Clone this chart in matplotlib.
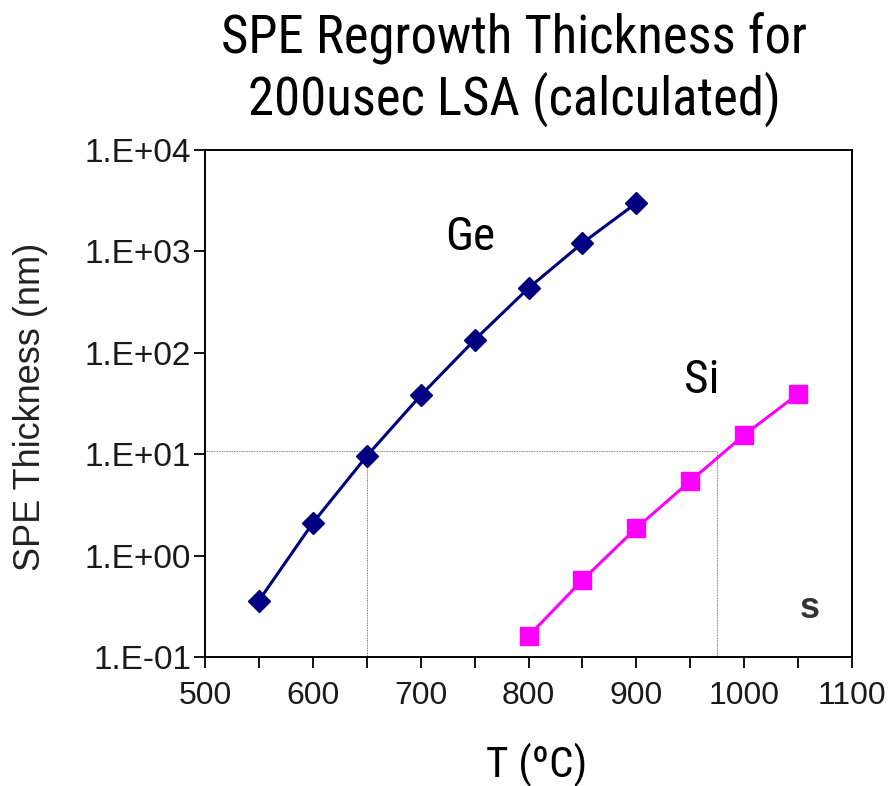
import numpy as np
import matplotlib
matplotlib.use("Agg")
import matplotlib.pyplot as plt
from matplotlib.ticker import FixedLocator, MultipleLocator

# data
ge_temp = [550, 600, 650, 700, 750, 800, 850, 900]
ge_thick = [0.36, 2.1, 9.6, 38, 134, 435, 1210, 3000]
si_temp = [800, 850, 900, 950, 1000, 1050]
si_thick = [0.161, 0.574, 1.87, 5.44, 15.5, 39.3]
y_ticks = [0.1, 1, 10, 100, 1000, 10000]
y_labels = ["1.E-01", "1.E+00", "1.E+01", "1.E+02", "1.E+03", "1.E+04"]
x_ticks = [500, 600, 700, 800, 900, 1000, 1100]
guide_level = 10.7
guide_temps = [650, 975]

narrow = ["Roboto Condensed", "Liberation Sans", "DejaVu Sans"]
regular = ["Liberation Sans", "DejaVu Sans"]

fig = plt.figure(figsize=(8.96, 7.86), dpi=100)
ax = fig.add_axes([0.2288, 0.1641, 0.7221, 0.6450])

# dotted guide lines
ax.plot([500, guide_temps[1]], [guide_level, guide_level], color="#555555", lw=0.6, ls=(0, (1, 1)))
for t in guide_temps:
    ax.plot([t, t], [0.1, guide_level], color="#555555", lw=0.6, ls=(0, (1, 1)))

ax.plot(ge_temp, ge_thick, color="#000080", lw=2.2, marker="D", ms=11.5, zorder=3)
ax.plot(si_temp, si_thick, color="#FF00FF", lw=2.2, marker="s", ms=13, zorder=3)

ax.set_yscale("log")
ax.set_xlim(500, 1100)
ax.set_ylim(0.1, 10000)
ax.yaxis.set_major_locator(FixedLocator(y_ticks))
ax.yaxis.set_minor_locator(FixedLocator([]))
ax.set_yticklabels(y_labels, family=regular, fontsize=24, color="#1a1a1a")
ax.xaxis.set_major_locator(FixedLocator(x_ticks))
ax.xaxis.set_minor_locator(MultipleLocator(50))
ax.set_xticklabels([str(v) for v in x_ticks], family=regular, fontsize=23, color="#1a1a1a")

ax.tick_params(axis="both", which="both", direction="out", length=8, width=1.3, color="black")
ax.tick_params(axis="x", pad=9)
ax.tick_params(axis="y", pad=2)
for s in ax.spines.values():
    s.set_linewidth(1.4)

fig.text(31 / 896, 1 - 407 / 786, "SPE Thickness (nm)", family=regular, fontsize=26,
         color="#222222", rotation=90, ha="center", va="center")
fig.text(537 / 896, 1 - 765 / 786, "T (\u00baC)", family=narrow, fontsize=31,
         ha="center", va="center")

ax.text(746, 1390, "Ge", family=narrow, fontsize=34, ha="center", va="center")
ax.text(961, 54, "Si", family=narrow, fontsize=34, ha="center", va="center")
ax.text(1061, 0.30, "s", family=regular, fontsize=26, fontweight="bold", color="#333333",
        ha="center", va="center")

fig.text(514 / 896, 1 - 70 / 786, "SPE Regrowth Thickness for\n200usec LSA (calculated)",
         family=narrow, fontsize=38, ha="center", va="center", linespacing=1.15)

fig.savefig("out.png", dpi=100)
